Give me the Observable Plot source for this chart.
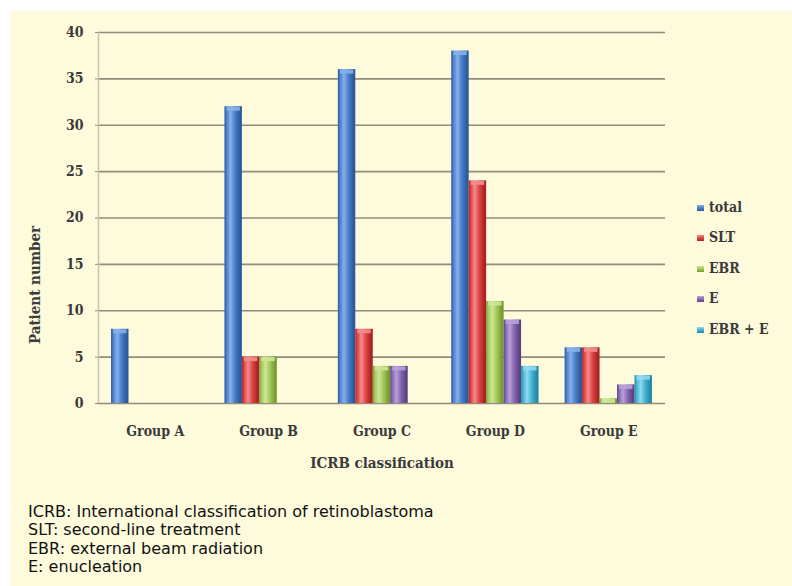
<!DOCTYPE html>
<html>
<head>
<meta charset="utf-8">
<script src="https://cdn.jsdelivr.net/npm/d3@7"></script>
<script src="https://cdn.jsdelivr.net/npm/@observablehq/plot@0.6"></script>
<style>
  html, body { margin: 0; padding: 0; background: #ffffff; }
  body { width: 792px; height: 586px; position: relative; overflow: hidden; }
  #panel { position: absolute; left: 10px; top: 11px; width: 782px; height: 575px; background: #fefadc; }
  #chart { position: absolute; left: 0; top: 0; }
  .serif { font-family: "DejaVu Serif Condensed", "DejaVu Serif", serif; font-weight: bold; color: #3a3a3a; }
  #ytitle { position: absolute; left: 35px; top: 285px; transform: translate(-50%, -50%) rotate(-90deg); font-size: 15px; white-space: nowrap; }
  #xtitle { position: absolute; left: 382px; top: 463px; transform: translate(-50%, -50%); font-size: 15px; white-space: nowrap; }
  #legend { position: absolute; left: 697px; top: 199px; font-size: 14px; }
  #legend .row { height: 30.4px; display: flex; align-items: flex-start; }
  #legend .sw { width: 7px; height: 6px; margin-top: 6px; margin-right: 5px; }
  #caption { position: absolute; left: 28px; top: 503px; font-family: "DejaVu Sans", sans-serif; font-size: 16px; line-height: 18.3px; color: #111; }
</style>
</head>
<body>
<div id="panel"></div>
<div id="chart"></div>
<div id="ytitle" class="serif">Patient number</div>
<div id="xtitle" class="serif">ICRB classification</div>
<div id="legend" class="serif"></div>
<div id="caption">
  ICRB: International classification of retinoblastoma<br>
  SLT: second-line treatment<br>
  EBR: external beam radiation<br>
  E: enucleation
</div>
<script>
// ICRB groups and treatment series
const groups = ["Group A", "Group B", "Group C", "Group D", "Group E"];
const series = ["total", "SLT", "EBR", "E", "EBR + E"];

// Patient counts per series, one value per group
const total  = [8, 32, 36, 38, 6];
const slt    = [0, 5, 8, 24, 6];
const ebr    = [0, 5, 4, 11, 0.5];
const enuc   = [0, 0, 4, 9, 2];
const ebrE   = [0, 0, 0, 4, 3];

const yTicks = [0, 5, 10, 15, 20, 25, 30, 35, 40];

// Bar shading: dark edge, light highlight, mid tone
const shades = {
  "total":   {dark: "#2c5a9c", light: "#86b0ea", mid: "#4a7fcb"},
  "SLT":     {dark: "#a82424", light: "#f48c8c", mid: "#df4444"},
  "EBR":     {dark: "#789b32", light: "#cde698", mid: "#a4c95a"},
  "E":       {dark: "#5c4284", light: "#b8a1d9", mid: "#8869b2"},
  "EBR + E": {dark: "#2886a6", light: "#90daee", mid: "#46b4d4"}
};

const values = [total, slt, ebr, enuc, ebrE];
const clusterWidth = 0.77;                 // share of each group slot covered by bars
const barW = clusterWidth / series.length;

const rows = [];
series.forEach((s, si) => {
  groups.forEach((g, gi) => {
    const x1 = gi - clusterWidth / 2 + si * barW;
    rows.push({group: g, series: s, value: values[si][gi], x1, x2: x1 + barW});
  });
});

const gradId = s => "grad-" + series.indexOf(s);

const gridColor = "#938c7a";

const marks = [
  Plot.ruleY(yTicks, {x1: -0.5, x2: 4.5, stroke: gridColor, strokeWidth: 1.6}),
  Plot.ruleX([-0.5], {y1: 0, y2: 40, stroke: "#c9c4b2", strokeWidth: 1.5}),
  ...series.map(s => Plot.rectY(rows.filter(d => d.series === s && d.value > 0), {
    x1: "x1", x2: "x2", y1: 0, y2: "value",
    fill: `url(#${gradId(s)})`
  })),
  // lighter rim at the top of each bar
  ...series.map(s => Plot.ruleY(rows.filter(d => d.series === s && d.value > 0), {
    x1: "x1", x2: "x2", y: "value", dy: 2,
    stroke: shades[s].light, strokeWidth: 4, strokeOpacity: 0.9, insetLeft: 2, insetRight: 2
  })),
  Plot.axisY({ticks: yTicks, tickSize: 3, tickPadding: 12, stroke: gridColor, fill: "#3a3a3a", label: null}),
  Plot.axisX({ticks: [0, 1, 2, 3, 4], tickFormat: i => groups[i], tickSize: 0, tickPadding: 23, fill: "#3a3a3a", label: null})
];

const plot = Plot.plot({
  width: 792,
  height: 490,
  marginLeft: 98,
  marginRight: 127,
  marginTop: 32,
  marginBottom: 87,
  x: {type: "linear", domain: [-0.5, 4.5]},
  y: {domain: [0, 40]},
  style: {
    background: "transparent",
    fontFamily: "'DejaVu Serif Condensed', 'DejaVu Serif', serif",
    fontWeight: "bold",
    fontSize: "14px",
    overflow: "visible"
  },
  marks
});

// horizontal gradients that give the bars their rounded look
const defs = d3.select(plot).insert("defs", ":first-child");
series.forEach(s => {
  const c = shades[s];
  const lg = defs.append("linearGradient").attr("id", gradId(s))
    .attr("x1", "0").attr("x2", "1").attr("y1", "0").attr("y2", "0");
  [[0, c.dark], [0.12, c.mid], [0.35, c.light], [0.6, c.mid], [0.9, c.dark], [1, c.dark]]
    .forEach(([o, col]) => lg.append("stop").attr("offset", o).attr("stop-color", col));
});

document.getElementById("chart").appendChild(plot);

// legend
const legend = d3.select("#legend");
series.forEach(s => {
  const row = legend.append("div").attr("class", "row");
  const c = shades[s];
  row.append("div").attr("class", "sw")
    .style("background", `linear-gradient(to bottom, ${c.light}, ${c.mid} 50%, ${c.dark})`);
  row.append("span").text(s);
});
</script>
</body>
</html>
